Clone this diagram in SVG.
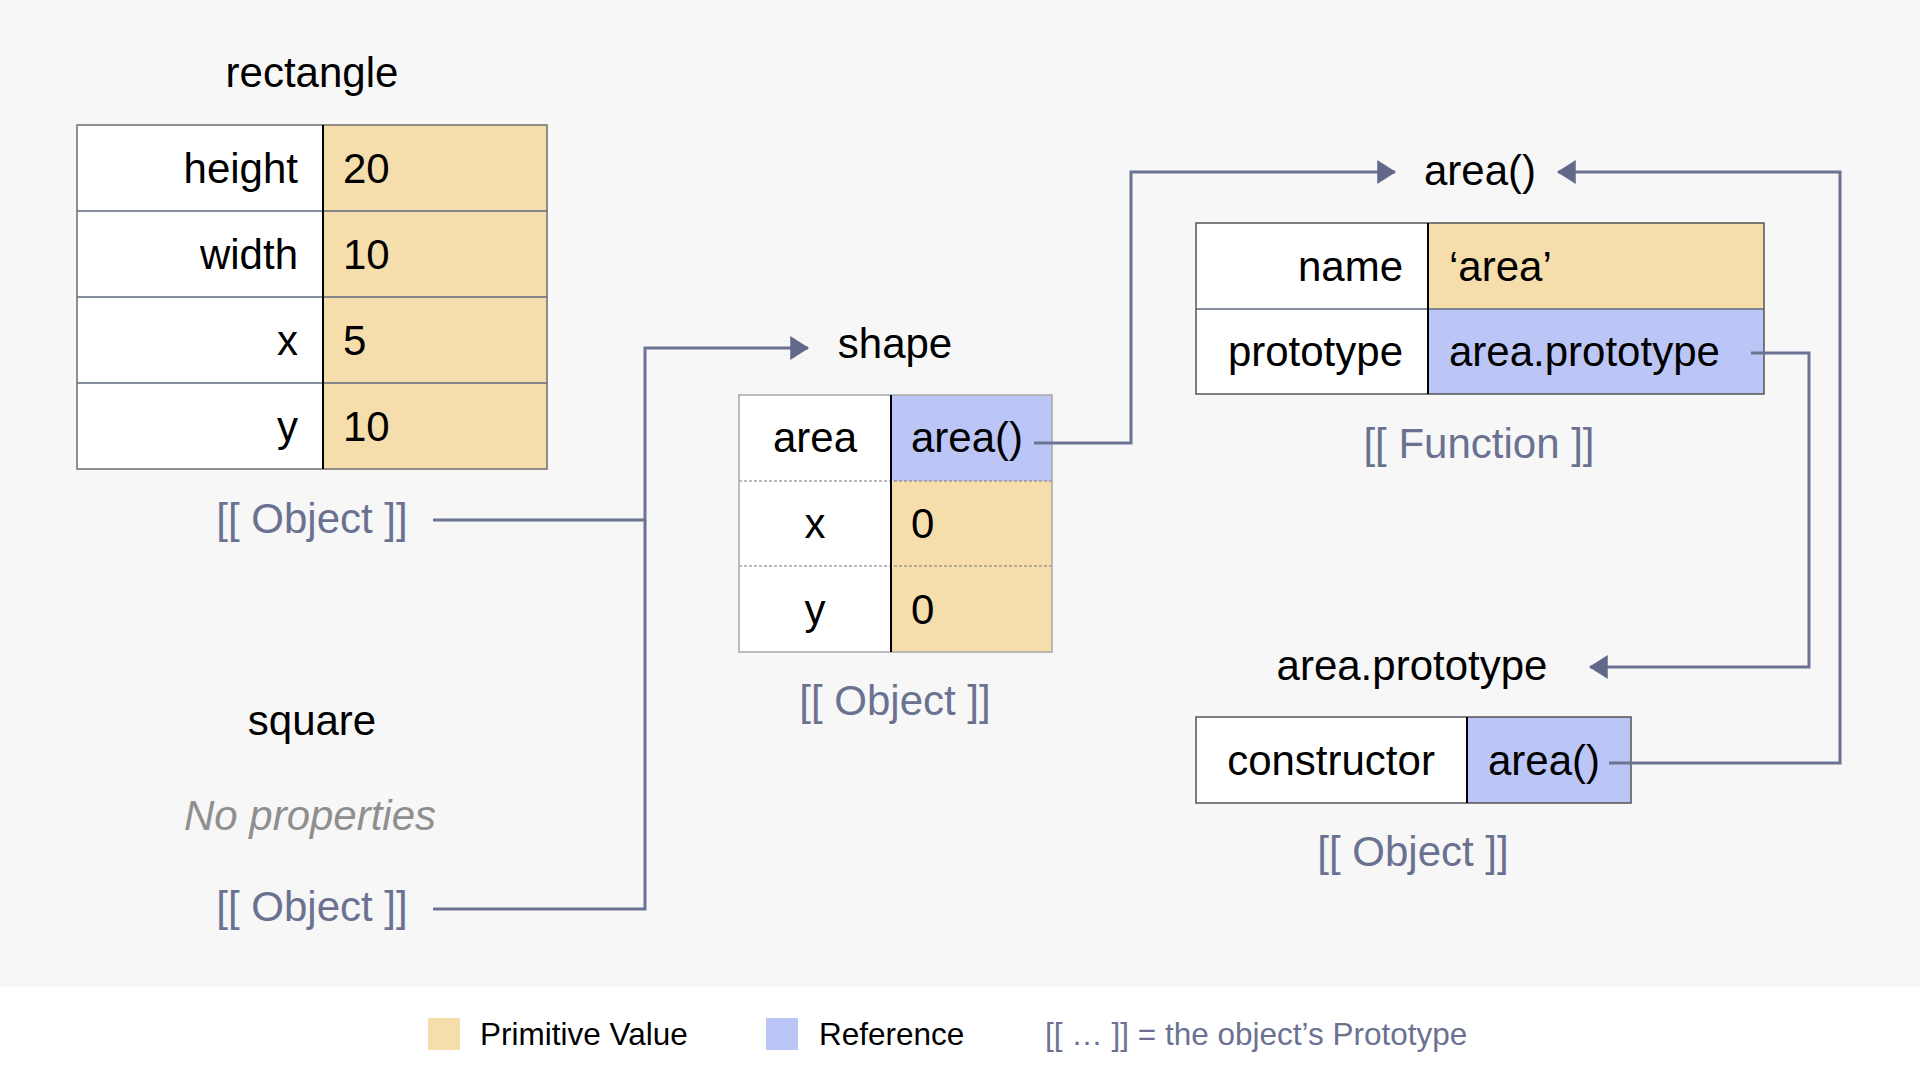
<svg xmlns="http://www.w3.org/2000/svg" width="1920" height="1080" viewBox="0 0 1920 1080">
<defs>
<style>
text{font-family:"Liberation Sans",Arial,Helvetica,sans-serif;font-size:42px;fill:#000}
.r{text-anchor:end}
.m{text-anchor:middle}
.proto{fill:#6B7291}
.note{fill:#8F8F8F;font-style:italic}
.lg{font-size:31.5px}
.prim{fill:#F5DEAB}
.ref{fill:#BCC6F6}
.key{fill:#FFFFFF}
.conn{fill:none;stroke:#6C7292;stroke-width:3}
.hl{stroke:#5E6A7E;stroke-width:1.5}
.dot{stroke:#777;stroke-width:1.2;stroke-dasharray:3 2}
.div{stroke:#000;stroke-width:2}
</style>
<marker id="arr" markerUnits="userSpaceOnUse" markerWidth="20" markerHeight="24" viewBox="0 0 18 23" refX="17" refY="11.5" orient="auto">
<path d="M0,0 L18,11.5 L0,23 Z" fill="#62688A"/>
</marker>
</defs>
<rect x="0" y="0" width="1920" height="1080" fill="#F7F7F7"/>
<rect x="0" y="987" width="1920" height="93" fill="#FFFFFF"/>

<g id="rectangle">
<text class="m" x="312" y="87">rectangle</text>
<rect class="key" x="77" y="125" width="246" height="344"/>
<rect class="prim" x="323" y="125" width="224" height="344"/>
<line class="hl" x1="77" y1="211" x2="547" y2="211"/>
<line class="hl" x1="77" y1="297" x2="547" y2="297"/>
<line class="hl" x1="77" y1="383" x2="547" y2="383"/>
<rect x="77" y="125" width="470" height="344" fill="none" stroke="#6E6E6E" stroke-width="1.5"/>
<line class="div" x1="323" y1="125" x2="323" y2="469"/>
<text class="r" x="298" y="183">height</text>
<text x="343" y="183">20</text>
<text class="r" x="298" y="269">width</text>
<text x="343" y="269">10</text>
<text class="r" x="298" y="355">x</text>
<text x="343" y="355">5</text>
<text class="r" x="298" y="441">y</text>
<text x="343" y="441">10</text>
<text class="m proto" x="312" y="533">[[ Object ]]</text>
</g>

<g id="square">
<text class="m" x="312" y="735">square</text>
<text class="m note" x="310" y="830">No properties</text>
<text class="m proto" x="312" y="921">[[ Object ]]</text>
</g>

<g id="shape">
<text class="m" x="895" y="358">shape</text>
<rect class="key" x="739" y="395" width="152" height="257"/>
<rect class="ref" x="891" y="395" width="161" height="86"/>
<rect class="prim" x="891" y="481" width="161" height="171"/>
<line class="dot" x1="739" y1="481" x2="1052" y2="481"/>
<line class="dot" x1="739" y1="566" x2="1052" y2="566"/>
<rect x="739" y="395" width="313" height="257" fill="none" stroke="#A8A8A8" stroke-width="1.5"/>
<line class="div" x1="891" y1="395" x2="891" y2="652"/>
<text class="m" x="815" y="452">area</text>
<text x="911" y="452">area()</text>
<text class="m" x="815" y="538">x</text>
<text x="911" y="538">0</text>
<text class="m" x="815" y="624">y</text>
<text x="911" y="624">0</text>
<text class="m proto" x="895" y="715">[[ Object ]]</text>
</g>

<g id="area-function">
<text class="m" x="1480" y="185">area()</text>
<rect class="key" x="1196" y="223" width="232" height="171"/>
<rect class="prim" x="1428" y="223" width="336" height="86"/>
<rect class="ref" x="1428" y="309" width="336" height="85"/>
<line class="hl" x1="1196" y1="309" x2="1764" y2="309" stroke="#8A96A8"/>
<rect x="1196" y="223" width="568" height="171" fill="none" stroke="#555" stroke-width="1.5"/>
<line class="div" x1="1428" y1="223" x2="1428" y2="394"/>
<text class="r" x="1403" y="281">name</text>
<text x="1449" y="281">‘area’</text>
<text class="r" x="1403" y="366">prototype</text>
<text x="1449" y="366">area.prototype</text>
<text class="m proto" x="1479" y="458">[[ Function ]]</text>
</g>

<g id="area-prototype">
<text class="m" x="1412" y="680">area.prototype</text>
<rect class="key" x="1196" y="717" width="271" height="86"/>
<rect class="ref" x="1467" y="717" width="164" height="86"/>
<rect x="1196" y="717" width="435" height="86" fill="none" stroke="#555" stroke-width="1.5"/>
<line class="div" x1="1467" y1="717" x2="1467" y2="803" stroke-width="1.5"/>
<text class="m" x="1331" y="775">constructor</text>
<text x="1488" y="775">area()</text>
<text class="m proto" x="1413" y="866">[[ Object ]]</text>
</g>

<g id="connectors">
<path class="conn" d="M433,520 H645 V348 H808" marker-end="url(#arr)"/>
<path class="conn" d="M433,909 H645 V520"/>
<path class="conn" d="M1034,443 H1131 V172 H1395" marker-end="url(#arr)"/>
<path class="conn" d="M1751,353 H1809 V667 H1590" marker-end="url(#arr)"/>
<path class="conn" d="M1609,763 H1840 V172 H1558" marker-end="url(#arr)"/>
</g>

<g id="legend">
<rect class="prim" x="428" y="1018" width="32" height="32"/>
<text class="lg" x="480" y="1045">Primitive Value</text>
<rect class="ref" x="766" y="1018" width="32" height="32"/>
<text class="lg" x="819" y="1045">Reference</text>
<text class="lg proto" x="1045" y="1045">[[ … ]] = the object’s Prototype</text>
</g>
</svg>
